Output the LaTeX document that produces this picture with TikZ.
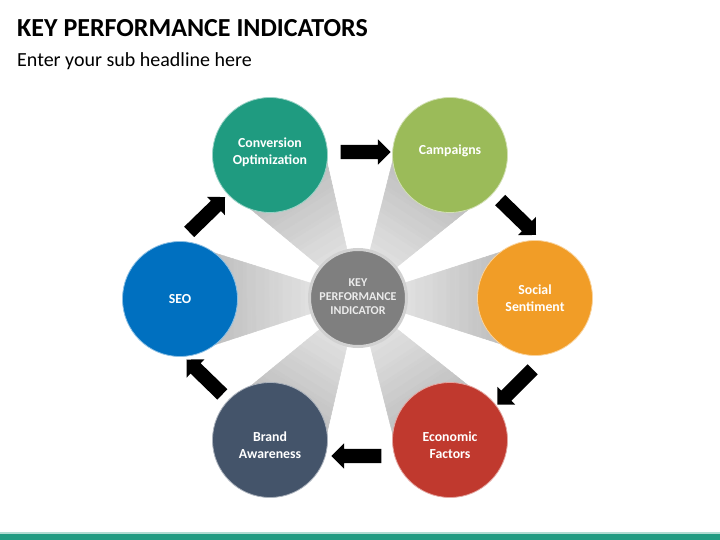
\documentclass[tikz,border=0pt]{standalone}
\usepackage{fontspec}
\setmainfont{Carlito}
\usetikzlibrary{shapes.arrows}
\definecolor{cConv}{HTML}{1F9B80}
\definecolor{cCamp}{HTML}{9BBB59}
\definecolor{cSoc}{HTML}{F19D27}
\definecolor{cEco}{HTML}{C0392E}
\definecolor{cBrand}{HTML}{44546A}
\definecolor{cSeo}{HTML}{0070C0}
\definecolor{cMid}{HTML}{7F7F7F}
\definecolor{cBar}{HTML}{229B82}
\begin{document}
\begin{tikzpicture}[x=1pt,y=-1pt,
  kpi/.style={circle, fill=#1, draw=#1!45!white, line width=0.8pt, minimum size=115pt, inner sep=0pt},
  kpitext/.style={text=white, font=\bfseries\fontsize{13.8}{17}\selectfont, align=center, inner sep=0pt},
  blockarr/.style={shape=single arrow, fill=black, draw=none, inner xsep=0pt, inner ysep=7pt,
    minimum height=50pt, single arrow head extend=5.5pt, single arrow tip angle=90, midway, sloped, allow upside down}]
\useasboundingbox (0,0) rectangle (720,540);
\fill[white] (0,0) rectangle (720,540);
% title
\node[anchor=base west, inner sep=0pt, font=\bfseries\fontsize{26}{30}\selectfont] (title) at (17,37) {KEY PERFORMANCE INDICATORS};
\node[anchor=base west, inner sep=0pt, font=\fontsize{20}{24}\selectfont] (sub) at (17,66.5) {Enter your sub headline here};
% rays
\foreach \ox/\oy in {270/155, 450/155, 535/298, 450/440, 270/440, 180/299} {
  \pgfmathsetmacro\ddx{\ox-358}
  \pgfmathsetmacro\ddy{\oy-298}
  \pgfmathsetmacro\len{veclen(\ddx,\ddy)}
  \pgfmathsetmacro\ax{\ddx-57*\ddy/\len}
  \pgfmathsetmacro\ay{\ddy+57*\ddx/\len}
  \pgfmathsetmacro\bx{\ddx+57*\ddy/\len}
  \pgfmathsetmacro\by{\ddy-57*\ddx/\len}
  \foreach \k in {0,...,29} {
    \pgfmathsetmacro\ta{0.25+0.75*\k/30}
    \pgfmathsetmacro\tb{0.25+0.75*(\k+1)/30}
    \pgfmathtruncatemacro\pp{6+25*\ta}
    \fill[black!\pp!white, draw=black!\pp!white, line width=0.5pt]
      (358+\ta*\ax, 298+\ta*\ay) -- (358+\tb*\ax, 298+\tb*\ay) -- (358+\tb*\bx, 298+\tb*\by) -- (358+\ta*\bx, 298+\ta*\by) -- cycle;
  }
}
% centre
\node[circle, fill=cMid, draw=black!18!white, line width=3pt, minimum size=97pt, inner sep=0pt] (kpi) at (358,298) {};
\node[text=white!92!black, font=\bfseries\fontsize{12}{14}\selectfont, align=center, inner sep=0pt] (kpiT) at (358,297) {KEY\\PERFORMANCE\\INDICATOR};
% outer circles
\node[kpi=cConv] (conv) at (270,155) {};
\node[kpi=cCamp] (camp) at (450,155) {};
\node[kpi=cSoc] (soc) at (535,298) {};
\node[kpi=cEco] (eco) at (450,440) {};
\node[kpi=cBrand] (brand) at (270,440) {};
\node[kpi=cSeo] (seo) at (180,299) {};
\node[kpitext] (convT) at (270,152) {Conversion\\Optimization};
\node[kpitext] (campT) at (450,151) {Campaigns};
\node[kpitext] (socT) at (535,298) {Social\\Sentiment};
\node[kpitext] (ecoT) at (450,445) {Economic\\Factors};
\node[kpitext] (brandT) at (270,445) {Brand\\Awareness};
\node[kpitext] (seoT) at (180,299) {SEO};
% arrows
\coordinate (a1s) at (337,152); \coordinate (a1e) at (387,152);
\coordinate (a2s) at (497,197); \coordinate (a2e) at (534,233);
\coordinate (a3s) at (535,367); \coordinate (a3e) at (500,402);
\coordinate (a4s) at (384,456); \coordinate (a4e) at (336,456);
\coordinate (a5s) at (225,397); \coordinate (a5e) at (189,362);
\coordinate (a6s) at (187,234); \coordinate (a6e) at (222,200);
\path (a1s) -- (a1e) node[blockarr] (arr1) {};
\path (a2s) -- (a2e) node[blockarr] (arr2) {};
\path (a3s) -- (a3e) node[blockarr] (arr3) {};
\path (a4s) -- (a4e) node[blockarr] (arr4) {};
\path (a5s) -- (a5e) node[blockarr] (arr5) {};
\path (a6s) -- (a6e) node[blockarr] (arr6) {};
% bottom bar
\fill[cBar!35!white] (0,531.5) rectangle (720,533.5);
\fill[cBar] (0,533.5) rectangle (720,540);
\end{tikzpicture}
\end{document}
